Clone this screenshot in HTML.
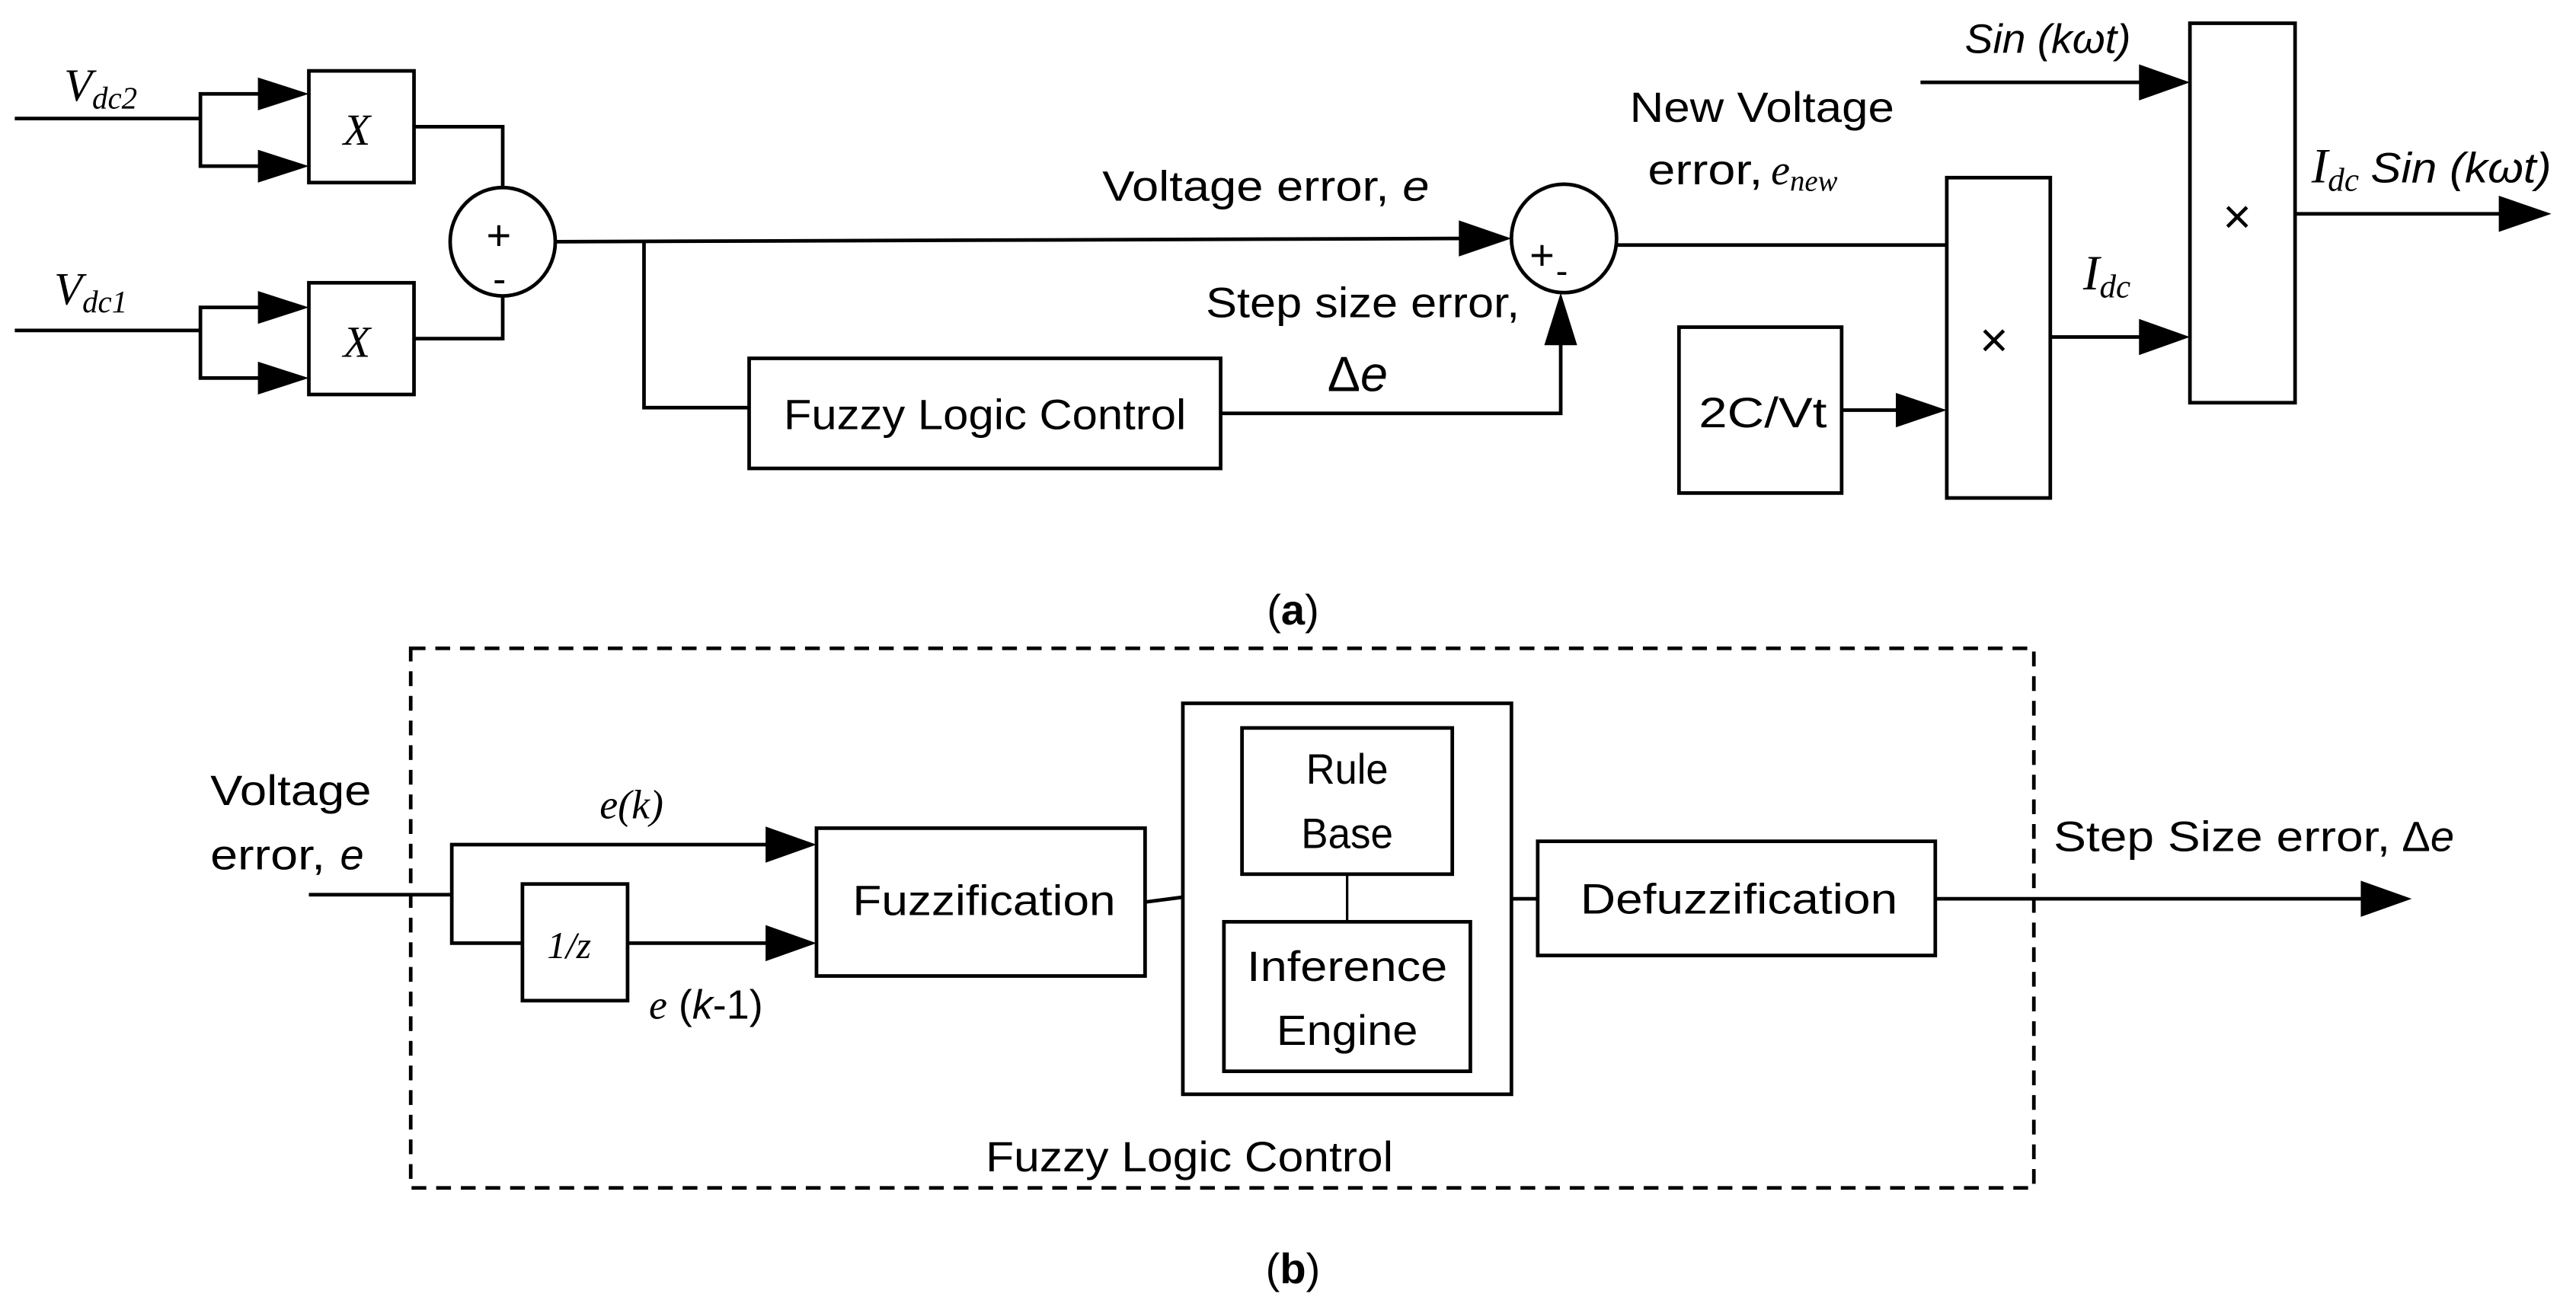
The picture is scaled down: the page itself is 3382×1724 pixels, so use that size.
<!DOCTYPE html>
<html><head><meta charset="utf-8"><style>
html,body{margin:0;padding:0;background:#fff;}
svg{display:block;}
text{font-family:"Liberation Sans",sans-serif;fill:#000;}
.s{font-family:"Liberation Serif",serif;font-style:italic;}
</style></head><body>
<svg width="3382" height="1724" viewBox="0 0 1568 799" xmlns="http://www.w3.org/2000/svg">
<g stroke="#000" stroke-width="2.2" fill="none">
<polyline points="9,72 122,72"/>
<polyline points="158,57 122,57 122,101 158,101"/>
<rect x="188" y="43" width="64" height="68"/>
<polyline points="252,77 306,77 306,114"/>
<polyline points="9,201 122,201"/>
<polyline points="158,187 122,187 122,230 158,230"/>
<rect x="188" y="172" width="64" height="68"/>
<polyline points="252,206 306,206 306,180"/>
<ellipse cx="306" cy="147" rx="32" ry="33"/>
<polyline points="338,147 890,145"/>
<polyline points="392,147 392,248 456,248"/>
<rect x="456" y="218" width="287" height="67"/>
<polyline points="743,251.5 950,251.5 950,208"/>
<ellipse cx="952" cy="145" rx="32" ry="33"/>
<polyline points="984,149 1185,149"/>
<rect x="1185" y="108" width="63" height="195"/>
<rect x="1022" y="199" width="99" height="101"/>
<polyline points="1121,249.5 1155,249.5"/>
<rect x="1333" y="14" width="64" height="231"/>
<polyline points="1169,50 1303,50"/>
<polyline points="1248,205 1303,205"/>
<polyline points="1397,130 1522,130"/>
<rect x="250" y="394.5" width="988" height="328.5" stroke-dasharray="9,6"/>
<polyline points="188,544.5 275,544.5"/>
<polyline points="467,514 275,514 275,574 318,574"/>
<rect x="318" y="538" width="64" height="71"/>
<polyline points="382,574 467,574"/>
<rect x="497" y="504" width="200" height="90"/>
<polyline points="697,549 720,546"/>
<rect x="720" y="428" width="200" height="238"/>
<rect x="756" y="443" width="128" height="89"/>
<rect x="745" y="561" width="150" height="91"/>
<polyline points="820,532 820,561" stroke-width="1.5"/>
<polyline points="920,547 936,547"/>
<rect x="936" y="512" width="242" height="69.5"/>
<polyline points="1178,547 1438,547"/>
</g>
<g fill="#000">
<polygon points="157,47 188,57 157,67"/><polygon points="157,91 188,101 157,111"/>
<polygon points="157,177 188,187 157,197"/><polygon points="157,220 188,230 157,240"/>
<polygon points="888,134 920,145 888,156"/>
<polygon points="940,210 950,178 960,210"/>
<polygon points="1154,239 1185,249.5 1154,260"/>
<polygon points="1302,39 1333,50 1302,61"/>
<polygon points="1302,194 1333,205 1302,216"/>
<polygon points="1521,119 1553,130 1521,141"/>
<polygon points="466,503 497,514 466,525"/>
<polygon points="466,563 497,574 466,585"/>
<polygon points="1437,536 1468,547 1437,558"/>
</g>
<text class="s" x="39" y="61" font-size="28">V<tspan font-size="19" dy="5">dc2</tspan></text>
<text class="s" x="33" y="185" font-size="28">V<tspan font-size="19" dy="5">dc1</tspan></text>
<text class="s" x="209" y="88" font-size="27">X</text>
<text class="s" x="209" y="217" font-size="27">X</text>
<text x="296" y="152" font-size="26">+</text>
<text x="300" y="178" font-size="24">-</text>
<text x="931" y="164" font-size="26">+</text>
<text x="947" y="172" font-size="22">-</text>
<text x="671" y="122" font-size="26" textLength="199" lengthAdjust="spacingAndGlyphs">Voltage error, <tspan font-style="italic">e</tspan></text>
<text x="734" y="193" font-size="26" textLength="191" lengthAdjust="spacingAndGlyphs">Step size error,</text>
<text x="808" y="238" font-size="30" font-family="Liberation Serif">Δ<tspan font-style="italic">e</tspan></text>
<text x="477" y="261" font-size="26" textLength="245" lengthAdjust="spacingAndGlyphs">Fuzzy Logic Control</text>
<text x="992" y="74" font-size="26" textLength="161" lengthAdjust="spacingAndGlyphs">New Voltage</text>
<text x="1003" y="112" font-size="26" textLength="70" lengthAdjust="spacingAndGlyphs">error,</text>
<text class="s" x="1078" y="112" font-size="26">e<tspan font-size="18" dy="4">new</tspan></text>
<text x="1196" y="32" font-size="25" font-style="italic" textLength="101" lengthAdjust="spacingAndGlyphs">Sin (kωt)</text>
<text x="1034" y="260" font-size="26" textLength="78" lengthAdjust="spacingAndGlyphs">2C/Vt</text>
<text x="1205" y="217" font-size="30">×</text>
<text x="1353" y="142" font-size="30">×</text>
<text class="s" x="1268" y="176" font-size="30">I<tspan font-size="20" dy="5">dc</tspan></text>
<text class="s" x="1407" y="111" font-size="30">I<tspan font-size="20" dy="5">dc</tspan></text>
<text x="1443" y="111" font-size="26" font-style="italic" textLength="110" lengthAdjust="spacingAndGlyphs">Sin (kωt)</text>
<text x="787" y="380" font-size="26" font-family="Liberation Serif" text-anchor="middle">(<tspan font-weight="bold">a</tspan>)</text>
<text x="128" y="490" font-size="26" textLength="98" lengthAdjust="spacingAndGlyphs">Voltage</text>
<text x="128" y="529" font-size="26" textLength="70" lengthAdjust="spacingAndGlyphs">error,</text>
<text x="207" y="529" font-size="26" font-style="italic">e</text>
<text class="s" x="365" y="498" font-size="25">e(k)</text>
<text class="s" x="333" y="583" font-size="23">1/z</text>
<text x="395" y="620" font-size="25"><tspan class="s">e</tspan> (<tspan font-style="italic">k</tspan>-1)</text>
<text x="519" y="557" font-size="26" textLength="160" lengthAdjust="spacingAndGlyphs">Fuzzification</text>
<text x="820" y="477" font-size="26" text-anchor="middle" textLength="50" lengthAdjust="spacingAndGlyphs">Rule</text>
<text x="820" y="516" font-size="26" text-anchor="middle" textLength="56" lengthAdjust="spacingAndGlyphs">Base</text>
<text x="820" y="597" font-size="26" text-anchor="middle" textLength="122" lengthAdjust="spacingAndGlyphs">Inference</text>
<text x="820" y="636" font-size="26" text-anchor="middle" textLength="86" lengthAdjust="spacingAndGlyphs">Engine</text>
<text x="962" y="556" font-size="26" textLength="193" lengthAdjust="spacingAndGlyphs">Defuzzification</text>
<text x="1250" y="518" font-size="26" textLength="205" lengthAdjust="spacingAndGlyphs">Step Size error,</text><text x="1462" y="518" font-size="26" font-family="Liberation Serif">Δ<tspan font-style="italic">e</tspan></text>
<text x="600" y="713" font-size="26" textLength="248" lengthAdjust="spacingAndGlyphs">Fuzzy Logic Control</text>
<text x="787" y="781" font-size="26" font-family="Liberation Serif" text-anchor="middle">(<tspan font-weight="bold">b</tspan>)</text>
</svg>
</body></html>
